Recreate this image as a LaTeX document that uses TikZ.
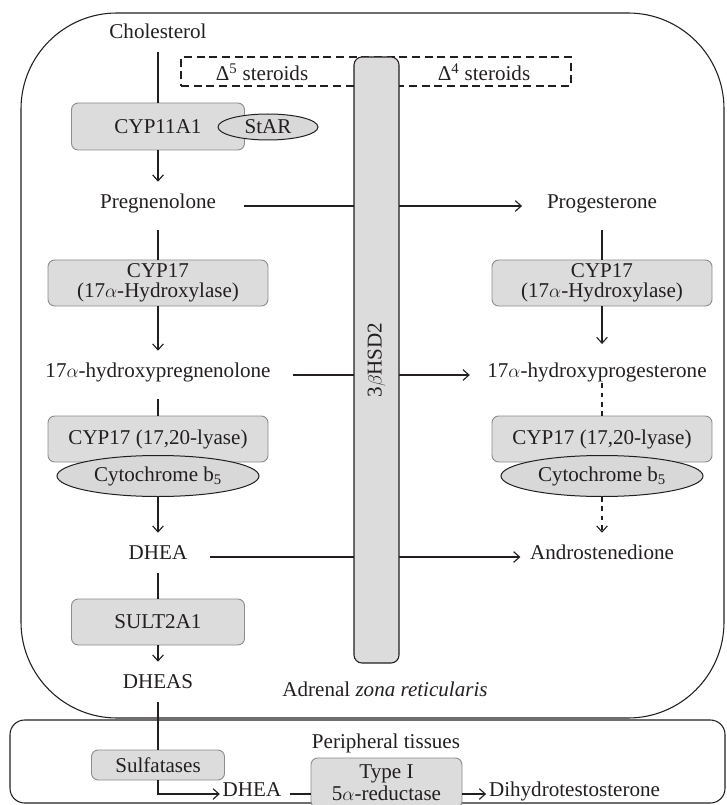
\documentclass[tikz,border=0pt]{standalone}
\usepackage{fontspec}
\setmainfont{Liberation Serif}
\usetikzlibrary{arrows.meta,shapes.geometric,calc}
\definecolor{ink}{HTML}{231F20}
\definecolor{boxfill}{HTML}{DCDCDC}
\definecolor{boxline}{HTML}{8C8C8C}
\definecolor{ellfill}{HTML}{D8D8D8}
\begin{document}
\begin{tikzpicture}[x=0.75pt,y=-0.75pt,
  font=\fontsize{15.8}{15}\selectfont,
  txt/.style={inner xsep=2pt, inner ysep=11pt, text height=9pt, text depth=5pt, text=ink},
  lbl/.style={inner sep=1pt, text=ink},
  enz/.style={draw=boxline, fill=boxfill, rounded corners=5pt, line width=0.7pt, inner sep=0pt, align=center, text=ink},
  ell/.style={ellipse, draw=ink, fill=ellfill, line width=0.75pt, inner sep=0pt, text=ink},
  conn/.style={draw=ink, line width=0.85pt},
  arr/.style={conn, -{Straight Barb[length=4.5pt,width=8pt]}},
  dsh/.style={dash pattern=on 3.5pt off 3.5pt},
  region/.style={draw=ink, line width=0.8pt, inner sep=0pt}
]
\useasboundingbox (0,0) rectangle (726,805);

% regions
\node[region, rounded corners=72pt, minimum width=527.25pt, minimum height=528.75pt] (adrenal) at (372.5,365.5) {};
\node[region, rounded corners=11pt, minimum width=536.25pt, minimum height=62.25pt] (periph) at (367.5,761.5) {};

% dashed box
\node[draw=ink, line width=0.85pt, dash pattern=on 6pt off 3.5pt, inner sep=0pt, minimum width=292.5pt, minimum height=21.75pt] (dbox) at (376,71.5) {};
\node[lbl] (d5) at (262,72) {Δ\textsuperscript{5} steroids};
\node[lbl] (d4) at (484,72) {Δ\textsuperscript{4} steroids};

% left column
\node[txt] (chol) at (158,36) {Cholesterol};
\node[enz, minimum width=129.75pt, minimum height=35.25pt] (cyp11) at (158,126.5) {CYP11A1};
\node[ell, minimum width=75pt, minimum height=19.5pt] (star) at (268,127) {StAR};
\node[txt] (preg) at (158,206) {Pregnenolone};
\node[enz, minimum width=165pt, minimum height=34.5pt] (cyp17a) at (158,283) {CYP17\\(17$\alpha$-Hydroxylase)};
\node[txt] (ohpreg) at (158,375) {17$\alpha$-hydroxypregnenolone};
\node[enz, minimum width=165pt, minimum height=34.5pt] (lyaseL) at (158,439) {CYP17 (17,20-lyase)};
\node[ell, minimum width=151.5pt, minimum height=30.75pt] (b5L) at (158,476) {Cytochrome b\textsubscript{5}};
\node[txt] (dhea) at (158,557) {DHEA};
\node[enz, minimum width=129.75pt, minimum height=34.5pt] (sult) at (158,622) {SULT2A1};
\node[txt] (dheas) at (158,686) {DHEAS};

% right column
\node[txt] (prog) at (602,206) {Progesterone};
\node[enz, minimum width=165pt, minimum height=34.5pt] (cyp17b) at (602,283) {CYP17\\(17$\alpha$-Hydroxylase)};
\node[txt] (ohprog) at (597,375) {17$\alpha$-hydroxyprogesterone};
\node[enz, minimum width=165pt, minimum height=34.5pt] (lyaseR) at (602,439) {CYP17 (17,20-lyase)};
\node[ell, minimum width=151.5pt, minimum height=30.75pt] (b5R) at (602,476) {Cytochrome b\textsubscript{5}};
\node[txt] (andro) at (602,557) {Androstenedione};

\node[lbl] (zona) at (385,689) {Adrenal \textit{zona reticularis}};

% peripheral
\node[lbl] (plbl) at (386,743) {Peripheral tissues};
\node[enz, minimum width=99.75pt, minimum height=22.5pt] (sulf) at (158,765) {Sulfatases};
\node[txt] (dhea2) at (252,794) {DHEA};
\node[enz, minimum width=113.25pt, minimum height=37.5pt] (typeI) at (386.5,783) {Type I\\[1.5pt]5$\alpha$-reductase};
\node[txt] (dht) at (574.5,794) {Dihydrotestosterone};

% horizontal conversions (under the 3bHSD2 bar)
\draw[arr, shorten <=19pt, shorten >=16.5pt] (preg) -- (prog);
\draw[arr, shorten <=15pt, shorten >=11pt] (ohpreg) -- (ohprog);
\draw[arr, shorten <=15pt, shorten >=5pt] (dhea) -- (andro);

% 3bHSD2 bar
\node[draw=ink, fill=boxfill, line width=0.8pt, rounded corners=6pt, rotate=90, minimum width=454.5pt, minimum height=33.75pt, inner sep=0pt, text=ink] (hsd) at (376.5,360) {3$\beta$HSD2};

% left vertical connectors
\draw[conn, shorten <=-6pt] (chol) -- (cyp11);
\draw[arr] (cyp11) -- (preg);
\draw[conn] (preg) -- (cyp17a);
\draw[arr] (cyp17a) -- (ohpreg);
\draw[conn] (ohpreg) -- (lyaseL);
\draw[arr] (b5L) -- (dhea);
\draw[conn, shorten <=-6pt] (dhea) -- (sult);
\draw[arr] (sult) -- (dheas);
\draw[conn, shorten <=-6pt] (dheas) -- (sulf);

% right vertical connectors
\draw[conn] (prog) -- (cyp17b);
\draw[arr, shorten >=5pt] (cyp17b.south) -- (cyp17b.south |- ohprog.north);
\draw[conn, dsh, shorten <=-12pt] (lyaseR.north |- ohprog.south) -- (lyaseR.north);
\draw[arr, dsh] (b5R) -- (andro);

% peripheral connectors
\draw[arr] (sulf.south) |- (dhea2.west);
\draw[conn, shorten <=4pt] (dhea2.east) -- (typeI.west |- dhea2.east);
\draw[arr] (typeI.east |- dht.west) -- (dht.west);
\end{tikzpicture}
\end{document}
